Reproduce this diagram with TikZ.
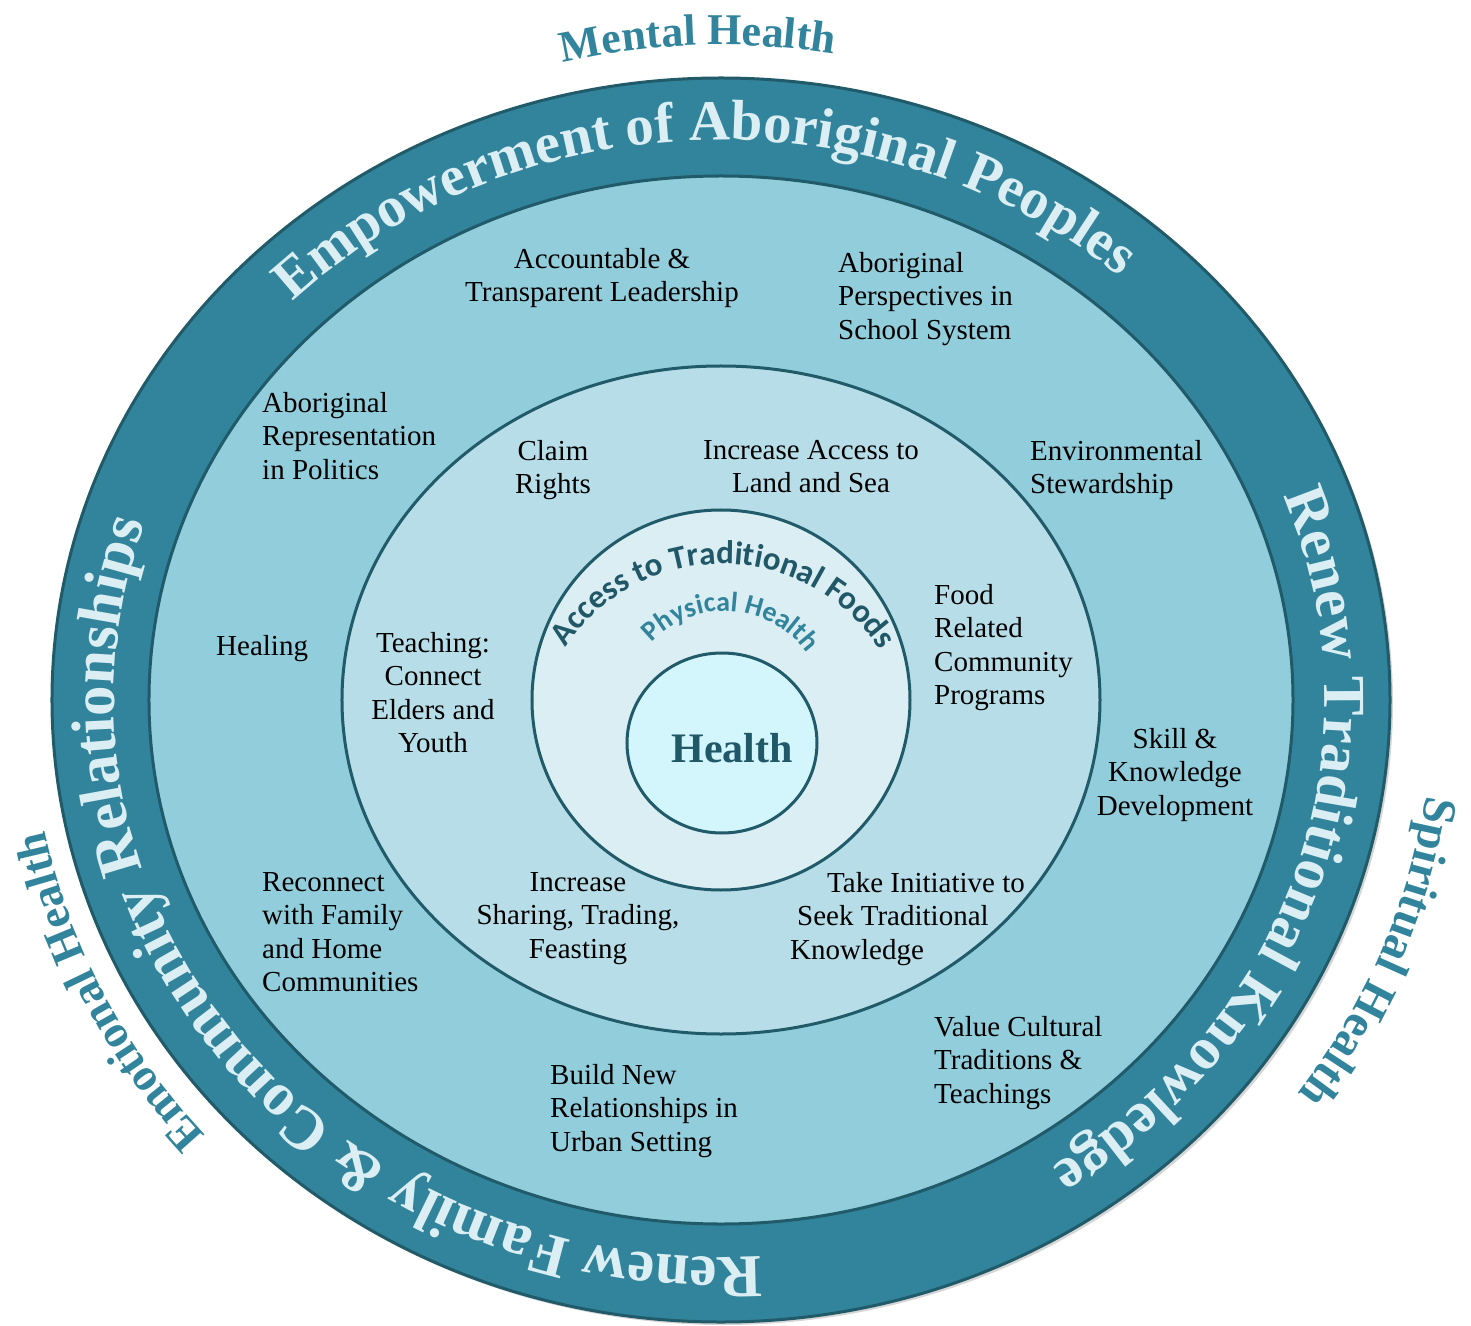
\documentclass[tikz,border=0pt]{standalone}
\usepackage{fontspec}
\setmainfont{Liberation Serif}
\newfontfamily\calfont{Carlito}
\usetikzlibrary{decorations.text}

\definecolor{band}{HTML}{31849B}
\definecolor{ringB}{HTML}{92CDDC}
\definecolor{ringC}{HTML}{B7DEE8}
\definecolor{ringD}{HTML}{DAEEF3}
\definecolor{core}{HTML}{D3F6FC}
\definecolor{rim}{HTML}{215A69}
\definecolor{bandtext}{HTML}{DAEEF3}
\definecolor{deep}{HTML}{215868}
\definecolor{outerlabel}{HTML}{31849B}

\newcommand\bandfont[1]{\bfseries\fontsize{#1}{#1}\selectfont\color{bandtext}}
\newcommand\labelfont[1]{\bfseries\fontsize{#1}{#1}\selectfont\color{outerlabel}}

\tikzset{
  ring/.style={draw=rim, line width=3pt},
  item/.style={font=\fontsize{29}{33.5}\selectfont, inner sep=0pt, text=black},
  itemL/.style={item, align=left, anchor=north west},
  itemC/.style={item, align=center, anchor=north},
  arctext/.style={decorate, decoration={text along path, text align=center, text={#1}}}
}

\begin{document}
\begin{tikzpicture}[x=1pt, y=1pt]
  \fill[white] (-721,-625) rectangle (750,700);
  \useasboundingbox (-721,-625) rectangle (750,700);

  % soft shadow under the outer disc
  \fill[black!35, opacity=0.45] (3,-3) ellipse [x radius=669pt, y radius=622pt];

  % concentric rings
  \draw[ring, fill=band]  (0,0) ellipse [x radius=669pt, y radius=622pt];
  \draw[ring, fill=ringB] (0,0) ellipse [x radius=572pt, y radius=524pt];
  \draw[ring, fill=ringC] (0,0) ellipse [x radius=379pt, y radius=334pt];
  \draw[ring, fill=ringD] (0,0) ellipse [x radius=189pt, y radius=190pt];
  \draw[ring, fill=core]  (1,-43) ellipse [x radius=95pt, y radius=90pt];

  % headings inside the dark band
  \path[arctext={|\bandfont{57}|Empowerment of Aboriginal Peoples}]
    (192:609pt and 560pt) arc[start angle=192, end angle=-8, x radius=609pt, y radius=560pt];
  \path[arctext={|\bandfont{59.5}|Renew Traditional Knowledge}]
    (83:604pt and 558pt) arc[start angle=83, end angle=-117, x radius=604pt, y radius=558pt];
  \path[arctext={|\bandfont{61}|Renew Family {\&} Community Relationships}]
    (-43:607pt and 557pt) arc[start angle=-43, end angle=-243, x radius=607pt, y radius=557pt];

  % the four aspects of health, outside the disc
  \path[arctext={|\labelfont{44}|Mental Health}]
    (192:690pt and 655pt) arc[start angle=192, end angle=-8, x radius=690pt, y radius=655pt];
  \path[arctext={|\labelfont{47.5}|Spiritual Health}]
    (59:712pt and 672pt) arc[start angle=59, end angle=-101, x radius=712pt, y radius=672pt];
  \path[arctext={|\labelfont{46}|Emotional Health}]
    (-54.5:690pt and 655pt) arc[start angle=-54.5, end angle=-254.5, x radius=690pt, y radius=655pt];

  % titles of the inner circle
  \path[arctext={|\calfont\bfseries\fontsize{33}{33}\selectfont\color{deep}|Access to Traditional Foods}]
    ([shift={(1,-52)}]189.5:188pt) arc[start angle=189.5, end angle=-10.5, radius=188pt];
  \path[arctext={|\calfont\bfseries\fontsize{28}{28}\selectfont\color{outerlabel}|Physical Health}]
    ([shift={(4,-11)}]176:100pt) arc[start angle=176, end angle=-4, radius=100pt];

  \node[font=\fontsize{42}{42}\selectfont\bfseries, text=deep, anchor=base, inner sep=0pt]
    (health) at (11,-62) {Health};

  % outer ring items
  \node[itemC] (lead)  at (-119,452) {Accountable \&\\Transparent Leadership};
  \node[itemL] (school) at (117,448) {Aboriginal\\Perspectives in\\School System};
  \node[itemL] (polit) at (-459,308) {Aboriginal\\Representation\\in Politics};
  \node[itemL] (env)   at (309,260) {Environmental\\Stewardship};
  \node[itemL] (heal)  at (-505,65) {Healing};
  \node[itemC] (skill) at (454,-28) {Skill \&\\Knowledge\\Development};
  \node[itemL] (family) at (-459,-172) {Reconnect\\with Family\\and Home\\Communities};
  \node[itemL] (value) at (213,-316) {Value Cultural\\Traditions \&\\Teachings};
  \node[itemL] (urban) at (-171,-364) {Build New\\Relationships in\\Urban Setting};

  % middle ring items
  \node[itemC] (claim)  at (-168,260) {Claim\\Rights};
  \node[itemC] (land)   at (90,260) {Increase Access to\\Land and Sea};
  \node[itemC] (teach)  at (-288,68) {Teaching:\\Connect\\Elders and\\Youth};
  \node[itemL] (food)   at (213,116) {Food\\Related\\Community\\Programs};
  \node[itemC] (share)  at (-143,-172) {Increase\\Sharing, Trading,\\Feasting};
  \node[itemL] (seek)   at (69,-172) {\hspace*{37pt}Take Initiative to\\\hspace*{7pt}Seek Traditional\\Knowledge};
\end{tikzpicture}
\end{document}
